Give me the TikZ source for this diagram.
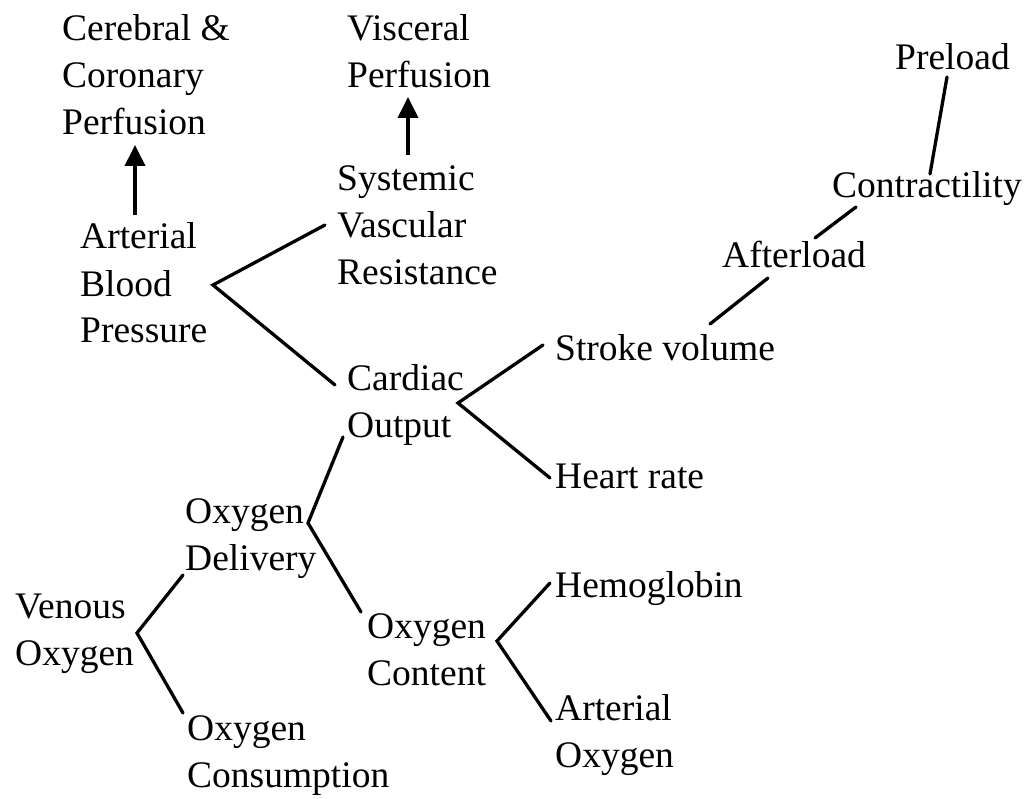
\documentclass[tikz,border=0pt]{standalone}
\usepackage{fontspec}
\setmainfont{Liberation Serif}
\usetikzlibrary{arrows.meta}
\tikzset{
  lbl/.style={anchor=base west, inner sep=0pt, align=left, font=\fontsize{37.5}{47}\selectfont},
  link/.style={line width=3.3pt, line cap=round, line join=miter},
  up/.style={line width=3.8pt, -{Triangle[length=21pt,width=20pt]}}
}
\begin{document}
\begin{tikzpicture}[x=1pt,y=-1pt]
\useasboundingbox[fill=white] (0,0) rectangle (1033,799);
% text nodes (anchor = baseline of the last line)
\node[lbl] (ccp) at (62,135) {Cerebral \&\\Coronary\\Perfusion};
\node[lbl] (vp) at (347,88) {Visceral\\Perfusion};
\node[lbl] (svr) at (337,285) {Systemic\\Vascular\\Resistance};
\node[lbl] (abp) at (80,343) {Arterial\\Blood\\Pressure};
\node[lbl] (co) at (347,437) {Cardiac\\Output};
\node[lbl] (sv) at (555,360) {Stroke volume};
\node[lbl] (hr) at (555,488) {Heart rate};
\node[lbl] (af) at (722,268) {Afterload};
\node[lbl] (ct) at (832,198) {Contractility};
\node[lbl] (pl) at (895,70) {Preload};
\node[lbl] (od) at (185,570) {Oxygen\\Delivery};
\node[lbl] (vo) at (15,665) {Venous\\Oxygen};
\node[lbl] (oc) at (187,787) {Oxygen\\Consumption};
\node[lbl] (oct) at (367,685) {Oxygen\\Content};
\node[lbl] (hb) at (555,597) {Hemoglobin};
\node[lbl] (ao) at (555,767) {Arterial\\Oxygen};
% connector points
\coordinate (abpV) at (213,285);
\coordinate (svrE) at (325,225);
\coordinate (coW) at (335,385);
\coordinate (coV) at (458,403);
\coordinate (svE) at (543,345);
\coordinate (hrE) at (550,478);
\coordinate (svT) at (710,324);
\coordinate (afB) at (768,278);
\coordinate (afT) at (815,238);
\coordinate (ctB) at (856,207);
\coordinate (ctT) at (930,174);
\coordinate (plB) at (947,77);
\coordinate (coB) at (343,437);
\coordinate (odV) at (308,523);
\coordinate (octE) at (361,612);
\coordinate (voV) at (137,633);
\coordinate (odE) at (183,575);
\coordinate (ocE) at (183,713);
\coordinate (octV) at (497,641);
\coordinate (hbE) at (550,583);
\coordinate (aoE) at (551,721);
\coordinate (a1s) at (135,215);
\coordinate (a1e) at (135,145);
\coordinate (a2s) at (408,155);
\coordinate (a2e) at (408,97);
% connectors
\draw[link] (svrE) -- (abpV) -- (coW);
\draw[link] (svE) -- (coV) -- (hrE);
\draw[link] (svT) -- (afB);
\draw[link] (afT) -- (ctB);
\draw[link] (ctT) -- (plB);
\draw[link] (coB) -- (odV) -- (octE);
\draw[link] (odE) -- (voV) -- (ocE);
\draw[link] (hbE) -- (octV) -- (aoE);
\draw[up] (a1s) -- (a1e);
\draw[up] (a2s) -- (a2e);
\end{tikzpicture}
\end{document}
